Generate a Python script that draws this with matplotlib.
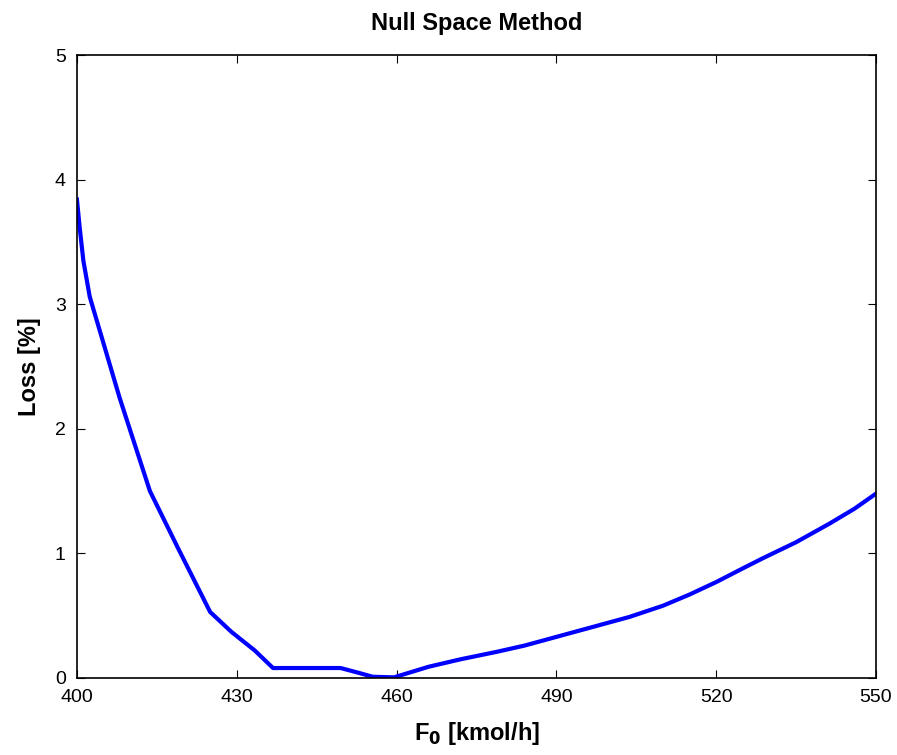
import numpy as np
import matplotlib
matplotlib.use("Agg")
import matplotlib.pyplot as plt

# Datos
f0 = [400, 400.5, 401.2, 402.4, 408, 413.7, 419, 425, 429, 433.4, 436.8,
      449.5, 453, 455.5, 459.5, 466, 472, 478.8, 484, 490, 496, 503.7,
      510, 515, 520, 525, 528.7, 535, 541.3, 546, 550]
loss = [3.84, 3.62, 3.35, 3.06, 2.25, 1.5, 1.04, 0.53, 0.37, 0.22, 0.08,
        0.08, 0.04, 0.01, 0.005, 0.09, 0.15, 0.21, 0.26, 0.33, 0.40, 0.49,
        0.58, 0.67, 0.77, 0.88, 0.96, 1.09, 1.24, 1.36, 1.48]
xticks = [400, 430, 460, 490, 520, 550]
yticks = [0, 1, 2, 3, 4, 5]

plt.rcParams['font.family'] = ['Liberation Sans', 'DejaVu Sans']

fig = plt.figure(figsize=(8.97, 7.55), dpi=100)
ax = fig.add_axes([0.0858, 0.102, 0.8908, 0.825])

ax.plot(f0, loss, color='#0000ff', linewidth=3)

ax.set_xlim(400, 550)
ax.set_ylim(0, 5)
ax.set_xticks(xticks)
ax.set_yticks(yticks)
ax.tick_params(direction='in', top=True, right=True, labelsize=14, length=6)
ax.tick_params(axis='x', pad=8)
ax.tick_params(axis='y', pad=8)
for s in ax.spines.values():
    s.set_linewidth(1.2)

ax.set_title("Null Space Method", fontsize=17, fontweight='bold', pad=18)
ax.set_xlabel("F$_\\mathbf{0}$ [kmol/h]", fontsize=17, fontweight='bold', labelpad=10)
ax.set_ylabel("Loss [%]", fontsize=17, fontweight='bold', labelpad=10)

fig.savefig("out.png", dpi=100)
